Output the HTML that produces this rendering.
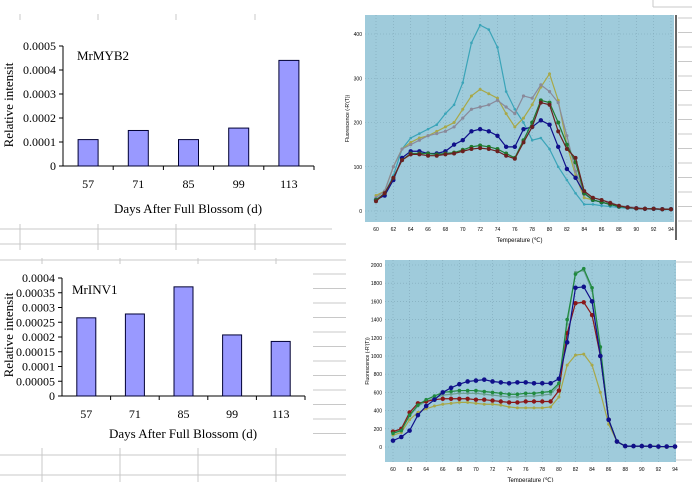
<!DOCTYPE html>
<html><head><meta charset="utf-8">
<style>
body{margin:0;width:692px;height:482px;background:#fff;overflow:hidden;font-family:"Liberation Serif",serif;}
svg{position:absolute;left:0;top:0}
</style></head><body>
<svg id="s" width="692" height="482" xmlns="http://www.w3.org/2000/svg"></svg>
<script>
// ---- data ----
const days=["57","71","85","99","113"];
const myb2=[0.00011,0.000148,0.00011,0.000158,0.00044];
const inv1=[0.000265,0.000278,0.00037,0.000207,0.000185];
const ticksA=["0","0.0001","0.0002","0.0003","0.0004","0.0005"];
const ticksB=["0","0.00005","0.0001","0.00015","0.0002","0.00025","0.0003","0.00035","0.0004"];
const temps=[60,61,62,63,64,65,66,67,68,69,70,71,72,73,74,75,76,77,78,79,80,81,82,83,84,85,86,87,88,89,90,91,92,93,94];
const m1teal=[25,40,80,140,165,175,185,195,220,240,290,380,420,410,370,270,230,200,160,165,140,100,70,40,15,15,12,10,8,6,5,5,4,3,3];
const m1olive=[35,45,100,140,155,165,170,180,190,200,230,260,275,265,255,220,190,210,240,280,310,250,150,80,30,25,20,15,10,8,6,5,5,4,4];
const m1gray=[30,45,100,140,150,160,170,175,180,190,210,230,235,240,250,235,220,260,255,285,270,245,170,90,40,30,25,20,12,10,8,6,5,5,4];
const m1navy=[25,35,70,120,135,135,130,130,135,150,160,180,185,180,170,145,145,185,190,205,195,145,95,75,40,25,20,15,10,8,6,5,5,4,4];
const m1green=[25,40,75,115,130,130,130,128,130,132,138,145,148,145,140,130,120,160,200,250,245,200,150,110,40,25,20,15,10,8,6,5,5,4,4];
const m1red=[22,40,75,115,128,128,125,125,128,130,135,140,142,140,135,125,118,155,190,245,240,180,140,120,45,30,25,18,12,8,6,5,5,4,4];
const m2navy=[70,110,180,350,450,520,600,650,690,720,730,740,720,710,700,710,710,700,700,700,750,1150,1750,1760,1600,1000,300,60,10,10,10,10,5,5,5];
const m2green=[150,180,350,460,520,560,600,610,620,620,620,610,600,590,580,580,590,590,600,610,700,1400,1900,1960,1750,1100,300,60,10,10,10,10,5,5,5];
const m2gray=[160,190,340,450,500,540,570,580,590,590,590,580,570,560,550,550,560,560,570,580,680,1350,1920,1940,1720,1080,290,60,10,10,10,10,5,5,5];
const m2red=[170,200,380,480,500,520,530,530,530,530,520,520,510,500,490,490,500,500,500,500,620,1250,1580,1590,1450,1000,300,60,10,10,10,10,5,5,5];
const m2olive=[130,160,300,380,420,450,470,480,490,490,480,470,470,460,440,430,430,430,430,440,550,900,1010,1020,900,600,250,60,10,10,10,10,5,5,5];

const S=document.getElementById('s');const NS="http://www.w3.org/2000/svg";
function el(t,a,txt){const e=document.createElementNS(NS,t);for(const k in a)e.setAttribute(k,a[k]);if(txt!==undefined)e.textContent=txt;S.appendChild(e);return e;}
function ln(x1,y1,x2,y2,c,w){const e=el('line',{x1,y1,x2,y2,stroke:c,'stroke-width':w||1});

return e;}

// spreadsheet gridlines
const G="#c8c8c8";
[20,98,176,255].forEach(x=>{ln(x,14,x,20,G);ln(x,224,x,250,G);});
ln(0,229,332,229,G);ln(0,244,346,244,G);ln(0,260,346,260,G);
[42,120,198,276].forEach(x=>{ln(x,258,x,264,G);ln(x,448,x,482,G);});
ln(0,455,346,455,G);ln(0,475,346,475,G);
for(let y=274;y<=445;y+=14.5){ln(313,y,346,y,G);}
for(let y=18;y<=230;y+=14.5){ln(678,y,692,y,G);}
for(let y=262;y<=470;y+=18){ln(676,y,692,y,G);}
ln(653,0,653,7,G);ln(653,7,692,7,G);

function barChart(vals,ticks,max,x0,y0,yTop,xEnd,bw,title,tx,ty,lblY,ttlY,ttlX,yl,nm){
  const h=y0-yTop;const cw=(xEnd-x0)/vals.length;
  const Y=v=>y0-v/max*h;
  ln(x0,yTop,x0,y0,'#000');ln(x0,y0,xEnd,y0,'#000');
  ticks.forEach((t,i)=>{const y=y0-i*h/(ticks.length-1);ln(x0-4,y,x0,y,'#000');
    const e=el('text',{x:x0-7,y:y+4,'font-size':12,'text-anchor':'end'},t);
    });
  vals.forEach((v,i)=>{const cx=x0+cw*(i+0.5);
    const r=el('rect',{x:cx-bw/2,y:Y(v),width:bw,height:y0-Y(v),fill:'#9999ff',stroke:'#000033','stroke-width':1});
    
    ln(x0+cw*(i+1),y0,x0+cw*(i+1),y0+4,'#000');
    const t=el('text',{x:cx,y:lblY,'font-size':12,'text-anchor':'middle'},days[i]);
    });
  let t=el('text',{x:tx,y:ty,'font-size':13},title);
  t=el('text',{x:ttlX,y:ttlY,'font-size':13,'text-anchor':'middle'},'Days After Full Blossom (d)');
  
  t=el('text',{x:0,y:0,'font-size':13,'text-anchor':'middle',transform:`translate(${yl[0]},${yl[1]}) rotate(-90)`},'Relative intensit');
  
}
barChart(myb2,ticksA,0.0005,63,166,46,314,20,'MrMYB2',77,60,188,213,188,[13,105],'myb2');
barChart(inv1,ticksB,0.0004,62,396,278,305,19,'MrINV1',72,294,418,438,183,[13,335],'inv1');

function melt(px,py,pw,ph,x60,x94,y0,yTopV,yTopPx,ticks,series,nm){
  const r=el('rect',{x:px,y:py,width:pw,height:ph,fill:'#9fcbdb'});
  
  const X=t=>x60+(t-60)/34*(x94-x60);const Y=v=>y0-v/yTopV*(y0-yTopPx);
  for(let t=60;t<=94;t+=2){const x=X(t);const l=ln(x,py,x,py+ph,'#7fa7b8',0.6);l.setAttribute('stroke-dasharray','1,2');
    const e=el('text',{x:x,y:py+ph+9,'font-size':5,'font-family':'Liberation Sans, sans-serif','text-anchor':'middle'},t);
    }
  ticks.forEach(v=>{const y=Y(v);const l=ln(px,y,px+pw,y,'#7fa7b8',0.6);l.setAttribute('stroke-dasharray','1,2');
    const e=el('text',{x:px-3,y:y+2,'font-size':5,'font-family':'Liberation Sans, sans-serif','text-anchor':'end'},v);
    });
  let e=el('text',{x:px+pw/2,y:py+ph+20,'font-size':6,'font-family':'Liberation Sans, sans-serif','text-anchor':'middle'},'Temperature (℃)');
  
  e=el('text',{x:0,y:0,'font-size':5,'font-family':'Liberation Sans, sans-serif','text-anchor':'middle',transform:`translate(${px-16},${py+ph/2}) rotate(-90)`},'Fluorescence (-R\'(T))');
  
  series.forEach(([vals,c,rad,sn])=>{
    const p=el('polyline',{points:vals.map((v,i)=>X(temps[i])+','+Y(v)).join(' '),fill:'none',stroke:c,'stroke-width':1.2});
    
    vals.forEach((v,i)=>{const m=el('circle',{cx:X(temps[i]),cy:Y(v),r:rad,fill:c});
      });
  });
}
melt(365,15,309,207,376,671,211,400,34,[0,100,200,300,400],
 [[m1teal,'#3aa4b8',1.3,'teal'],[m1olive,'#a8a848',1.5,'olive'],[m1gray,'#8a8a9a',1.6,'gray'],[m1navy,'#10108a',2.2,'navy'],[m1green,'#207a30',2,'green'],[m1red,'#6a2020',2,'red']],'melt1');
melt(385,260,291,202,393,675,447,2000,265,[0,200,400,600,800,1000,1200,1400,1600,1800,2000],
 [[m2olive,'#a8a848',1.5,'olive'],[m2gray,'#6aa090',1.5,'gray'],[m2red,'#8a1818',2.2,'red'],[m2green,'#208a40',1.8,'green'],[m2navy,'#10108a',2.3,'navy']],'melt2');
ln(676,15,676,240,'#333',1.5);
</script>
</body></html>
